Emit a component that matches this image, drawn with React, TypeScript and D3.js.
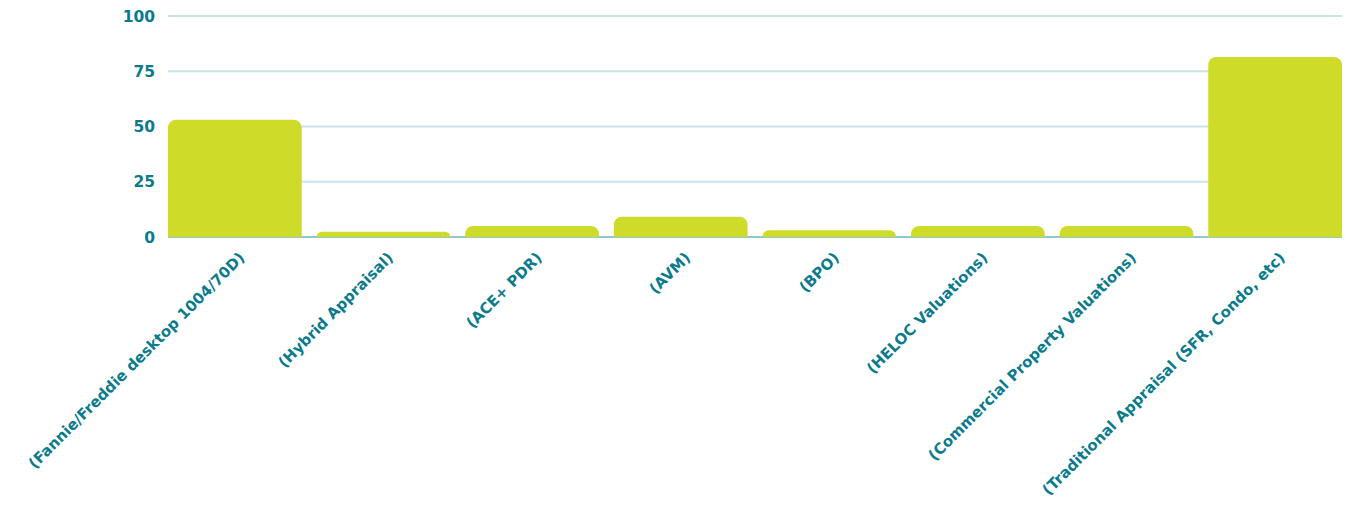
import React from "react";
import * as d3 from "d3";

const categories = [
  "(Fannie/Freddie desktop 1004/70D)",
  "(Hybrid Appraisal)",
  "(ACE+ PDR)",
  "(AVM)",
  "(BPO)",
  "(HELOC Valuations)",
  "(Commercial Property Valuations)",
  "(Traditional Appraisal (SFR, Condo, etc)",
];
const values = [53, 2.4, 5, 9.2, 3, 5, 5, 81.5];
const yTicks = [0, 25, 50, 75, 100];

const W = 1347;
const H = 508;
const left = 168;
const right = 1342;
const top = 16;
const bottom = 237;

export default function App() {
  const x = d3.scaleBand<string>().domain(categories).range([left, right]).paddingInner(0.1).paddingOuter(0);
  const y = d3.scaleLinear().domain([0, 100]).range([bottom, top]);
  const bw = x.bandwidth();
  const r = 8;
  const barPath = (x0: number, y0: number, w: number, h: number) => {
    const rr = Math.min(r, h, w / 2);
    const p = d3.path();
    p.moveTo(x0, y0 + h);
    p.lineTo(x0, y0 + rr);
    p.arcTo(x0, y0, x0 + rr, y0, rr);
    p.lineTo(x0 + w - rr, y0);
    p.arcTo(x0 + w, y0, x0 + w, y0 + rr, rr);
    p.lineTo(x0 + w, y0 + h);
    p.closePath();
    return p.toString();
  };
  const font = "'DejaVu Sans', sans-serif";
  const teal = "#0b7b8b";
  return (
    <svg width={W} height={H} style={{ position: "absolute", left: 0, top: 0 }}>
      {yTicks.map((t) => (
        <g key={t}>
          <line x1={left} x2={right} y1={y(t)} y2={y(t)} stroke={t === 0 ? "#8fc8d4" : "#c8e4eb"} strokeWidth={2} />
          <text x={155} y={y(t)} dy="0.36em" textAnchor="end" fill={teal} fontFamily={font} fontWeight={700} fontSize={15.5}>
            {t}
          </text>
        </g>
      ))}
      {categories.map((c, i) => (
        <path key={c} d={barPath(x(c)!, y(values[i]), bw, bottom - y(values[i]))} fill="#cfdb29" />
      ))}
      {categories.map((c) => {
        const cx = x(c)! + bw / 2 + 7;
        const cy = 255;
        return (
          <text
            key={c}
            x={cx}
            y={cy}
            transform={`rotate(-45 ${cx} ${cy})`}
            textAnchor="end"
            dy="0.35em"
            fill={teal}
            fontFamily={font}
            fontWeight={700}
            fontSize={15}
          >
            {c}
          </text>
        );
      })}
    </svg>
  );
}
